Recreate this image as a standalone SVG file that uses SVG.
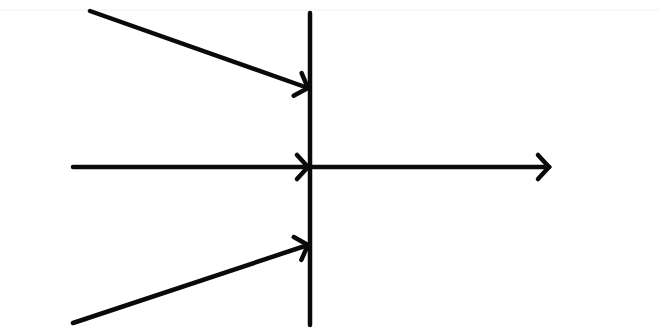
<svg xmlns="http://www.w3.org/2000/svg" width="659" height="330" viewBox="0 0 659 330">
<style>
.ln{stroke:#0a0a0a;stroke-width:4.5;fill:none;stroke-linecap:round}
</style>
<defs>
<marker id="ah" markerUnits="userSpaceOnUse" viewBox="-16 -16 20 32" refX="0" refY="0" markerWidth="20" markerHeight="32" orient="auto" overflow="visible">
<path d="M-11,-12 L0,0 L-11,12" fill="none" stroke="#0a0a0a" stroke-width="4.5" stroke-linecap="round" stroke-linejoin="miter"/>
</marker>
</defs>
<rect width="659" height="330" fill="#ffffff"/>
<line x1="0" y1="10" x2="659" y2="10" stroke="#f0f0f0" stroke-width="1"/>
<g id="barrier">
<line class="ln" x1="310" y1="13" x2="310" y2="325" stroke-linecap="butt"/>
</g>
<g id="connectors">
<line class="ln" x1="90" y1="11" x2="308" y2="88" marker-end="url(#ah)"/>
<line class="ln" x1="73" y1="167" x2="308" y2="167" marker-end="url(#ah)"/>
<line class="ln" x1="312" y1="167" x2="549" y2="167" marker-end="url(#ah)"/>
<line class="ln" x1="73" y1="323" x2="308" y2="245" marker-end="url(#ah)"/>
</g>
</svg>
